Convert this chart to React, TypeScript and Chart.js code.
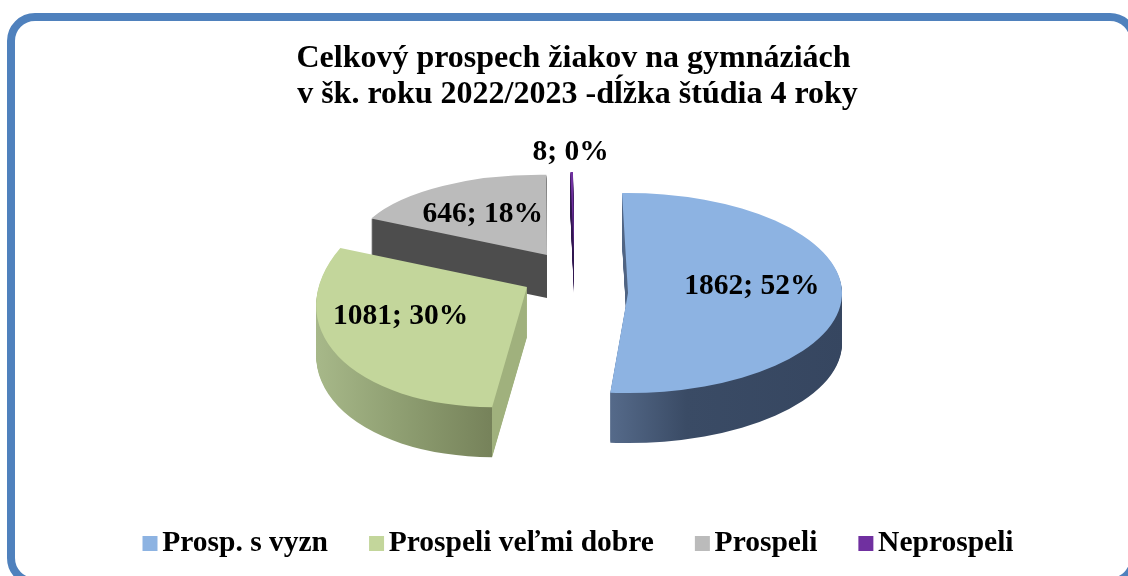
import React, { useEffect, useRef } from "react";
import { Chart, registerables } from "chart.js";

Chart.register(...registerables);

const categories = ["Prosp. s vyzn", "Prospeli veľmi dobre", "Prospeli", "Neprospeli"];
const values = [1862, 1081, 646, 8];
const percents = ["52%", "30%", "18%", "0%"];
const titleLines = ["Celkový prospech žiakov na gymnáziách ", "v šk. roku 2022/2023 -dĺžka štúdia 4 roky"];
const topColors = ["#8db3e2", "#c3d69b", "#bbbbbb", "#7030a0"];

const FONT = "'Liberation Serif', 'Times New Roman', serif";

// Style only: how each exploded slice is projected in the fake 3D view.
const views = [
  { apex: [628, 293], m: [214, 1, -1.5, 100], depth: 50, x0: 608, x1: 845, stops: [[0, "#566b8b"], [0.33, "#3a4b65"], [1, "#364660"]], label: [17, -8], labelR: 0.5 },
  { apex: [527, 287], m: [210, -7.6, -19, 120], depth: 50, x0: 313, x1: 527, stops: [[0, "#a8b98a"], [0.4, "#8f9f72"], [0.836, "#76825a"], [0.837, "#a0b17d"], [1, "#a0b17d"]], label: [-32, -5], labelR: 0.5 },
  { apex: [547, 255], m: [194, 6.4, -8.9, 80], depth: 43, x0: 370, x1: 550, stops: [[0, "#4d4d4d"], [1, "#4d4d4d"]], label: [-12, -6], labelR: 0.5 },
  { apex: [574, 253], m: [190, 0, -5.6, 81], depth: 40, x0: 560, x1: 580, stops: [[0, "#30164f"], [1, "#30164f"]], label: [-1, -20], labelR: 1 },
];
const drawOrder = [2, 3, 0, 1];
const legendNudge = { x: 2.5, y: -2 };

function legendSwatch(color: string) {
  const c = document.createElement("canvas");
  c.width = 25;
  c.height = 15;
  const g = c.getContext("2d")!;
  g.fillStyle = color;
  g.fillRect(8, 0, 15, 15);
  return c;
}

function plainOptions(backgroundColor: any) {
  return {
    backgroundColor,
    borderColor: "rgba(0,0,0,0)",
    borderWidth: 0,
    borderRadius: 0,
    offset: 0,
    spacing: 0,
    circular: true,
    borderAlign: "center",
    borderJoinStyle: "round",
    selfJoin: false,
    borderDash: [],
    borderDashOffset: 0,
  };
}

const tiltedPie = {
  id: "tiltedPie",
  afterLayout(chart: any) {
    const l = chart.legend;
    l.left += legendNudge.x;
    l.right += legendNudge.x;
    l.top += legendNudge.y;
    l.bottom += legendNudge.y;
  },
  beforeDatasetsDraw(chart: any) {
    const ctx: CanvasRenderingContext2D = chart.ctx;
    const arcs = chart.getDatasetMeta(0).data;
    for (const i of drawOrder) {
      const el = arcs[i];
      const v = views[i];
      const original = el.options;
      const R = el.outerRadius;
      const [a, b, c, d] = v.m;
      const A = a / R, B = b / R, C = c / R, D = d / R;
      const E = v.apex[0] - A * el.x - C * el.y;
      const F = v.apex[1] - B * el.x - D * el.y;
      const nn = A * A + C * C;
      const gp = (x: number) => [((x - E) * A) / nn, ((x - E) * C) / nn];
      const [gx0, gy0] = gp(v.x0);
      const [gx1, gy1] = gp(v.x1);
      const grad = ctx.createLinearGradient(gx0, gy0, gx1, gy1);
      for (const [p, col] of v.stops as [number, string][]) grad.addColorStop(p, col);

      ctx.save();
      el.options = plainOptions(grad);
      for (let s = v.depth; s >= 1; s--) {
        ctx.setTransform(A, B, C, D, E, F + s);
        el.draw(ctx);
      }
      el.options = plainOptions(topColors[i]);
      ctx.setTransform(A, B, C, D, E, F);
      el.draw(ctx);
      el.options = original;
      ctx.restore();
    }

    // data labels
    ctx.save();
    ctx.font = `bold 29.5px ${FONT}`;
    ctx.fillStyle = "#000";
    ctx.textAlign = "center";
    ctx.textBaseline = "middle";
    arcs.forEach((el: any, i: number) => {
      const v = views[i];
      const mid = (el.startAngle + el.endAngle) / 2;
      const u = Math.cos(mid) * v.labelR;
      const w = Math.sin(mid) * v.labelR;
      const x = v.apex[0] + v.m[0] * u + v.m[2] * w + v.label[0];
      const y = v.apex[1] + v.m[1] * u + v.m[3] * w + v.label[1];
      ctx.fillText(`${values[i]}; ${percents[i]}`, x, y);
    });
    ctx.restore();
    return false;
  },
};

export default function App() {
  const ref = useRef<HTMLCanvasElement>(null);

  useEffect(() => {
    const chart = new Chart(ref.current!, {
      type: "pie",
      data: {
        labels: categories,
        datasets: [{ data: values, backgroundColor: topColors, borderWidth: 0 }],
      },
      options: {
        animation: false,
        responsive: false,
        rotation: -2,
        layout: { padding: 0 },
        plugins: {
          tooltip: { enabled: false },
          title: {
            display: true,
            text: titleLines,
            color: "#000",
            font: { family: FONT, size: 32, weight: "bold", lineHeight: 1.125 },
            padding: { top: 41, bottom: 10 },
          },
          legend: {
            display: true,
            position: "bottom",
            labels: {
              color: "#000",
              font: { family: FONT, size: 29.5, weight: "bold" },
              usePointStyle: true,
              pointStyleWidth: 1,
              boxHeight: 15,
              padding: 45,
              generateLabels: () =>
                categories.map((text, i) => ({
                  text,
                  fontColor: "#000",
                  fillStyle: topColors[i],
                  strokeStyle: topColors[i],
                  lineWidth: 0,
                  hidden: false,
                  index: i,
                  pointStyle: legendSwatch(topColors[i]),
                })),
            },
          },
        },
      } as any,
      plugins: [tiltedPie as any],
    });
    return () => chart.destroy();
  }, []);

  return (
    <div style={{ position: "fixed", inset: 0, overflow: "hidden", background: "#fff" }}>
      <div
        style={{
          position: "absolute",
          left: 7,
          top: 13,
          width: 1131,
          height: 573,
          boxSizing: "border-box",
          border: "8px solid #4f81bd",
          borderRadius: 28,
        }}
      />
      <canvas ref={ref} width={1155} height={570} style={{ position: "absolute", left: 0, top: 0, display: "block" }} />
    </div>
  );
}
